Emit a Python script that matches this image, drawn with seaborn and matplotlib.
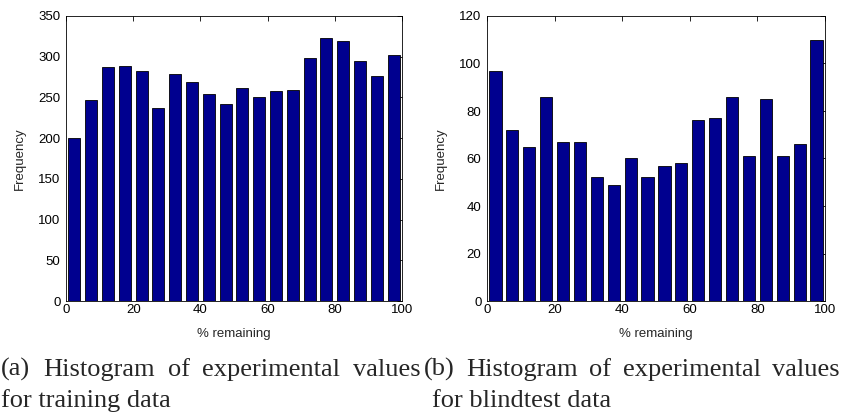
import numpy as np
import pandas as pd
import matplotlib
matplotlib.use("Agg")
import matplotlib.pyplot as plt
import seaborn as sns

# Data
bin_centers = [2.5 + 5 * i for i in range(20)]
training_freq = [200, 247, 287, 289, 282, 237, 279, 269, 254, 242,
                 261, 251, 258, 259, 298, 323, 319, 295, 276, 302]
blindtest_freq = [97, 72, 65, 86, 67, 67, 52, 49, 60, 52,
                  57, 58, 76, 77, 86, 61, 85, 61, 66, 110]
bin_edges = [5 * i for i in range(21)]
xticks = [0, 20, 40, 60, 80, 100]
yticks_a = [0, 50, 100, 150, 200, 250, 300, 350]
yticks_b = [0, 20, 40, 60, 80, 100, 120]
caption_a = ["(a) Histogram of experimental values", "for training data"]
caption_b = ["(b) Histogram of experimental values", "for blindtest data"]

sns.set_style("white")
plt.rcParams['font.family'] = ['Liberation Sans', 'DejaVu Sans']

W, H = 841, 419
fig = plt.figure(figsize=(W / 100, H / 100), dpi=100)
ax1 = fig.add_axes([66 / W, 1 - 301 / H, 336 / W, 285 / H])
ax2 = fig.add_axes([487 / W, 1 - 301 / H, 338 / W, 285 / H])

navy = "#00008F"
tick_fs = 9.5
for ax, freq, yt in [(ax1, training_freq, yticks_a), (ax2, blindtest_freq, yticks_b)]:
    df = pd.DataFrame({"x": bin_centers, "w": freq})
    sns.histplot(data=df, x="x", weights="w", bins=bin_edges, shrink=0.72,
                 color=navy, edgecolor="black", linewidth=0.6, alpha=1, ax=ax)
    ax.set_xlim(0, 100)
    ax.set_ylim(yt[0], yt[-1])
    ax.set_xticks(xticks)
    ax.set_yticks(yt)
    ax.tick_params(axis="both", direction="in", top=True, right=True, length=3.5, width=0.6,
                   labelsize=tick_fs, colors="black")
    ax.tick_params(axis="y", pad=4)
    ax.tick_params(axis="x", pad=2)
    for s in ax.spines.values():
        s.set_visible(True)
        s.set_linewidth(0.6)
        s.set_color("black")
    ax.set_xlabel("% remaining", fontsize=tick_fs, labelpad=9)
    ax.set_ylabel("Frequency", fontsize=tick_fs, labelpad=9)

serif = ['Liberation Serif', 'DejaVu Serif']
cap_fs = 19
fig.canvas.draw()
renderer = fig.canvas.get_renderer()


def justified(x0, x1, ybase, text):
    words = text.split(" ")
    objs = [fig.text(0, ybase, w, fontsize=cap_fs, family=serif, va="baseline", ha="left")
            for w in words]
    widths = [o.get_window_extent(renderer).width for o in objs]
    gap = ((x1 - x0) - sum(widths)) / (len(words) - 1)
    x = x0
    for o, w in zip(objs, widths):
        o.set_x(x / W)
        x += w + gap


justified(1, 421, 1 - 376 / H, caption_a[0])
fig.text(1 / W, 1 - 407 / H, caption_a[1], fontsize=cap_fs, family=serif, va="baseline", ha="left")
justified(424, 840, 1 - 376 / H, caption_b[0])
fig.text(432 / W, 1 - 407 / H, caption_b[1], fontsize=cap_fs, family=serif, va="baseline", ha="left")

fig.savefig("out.png", dpi=100)
